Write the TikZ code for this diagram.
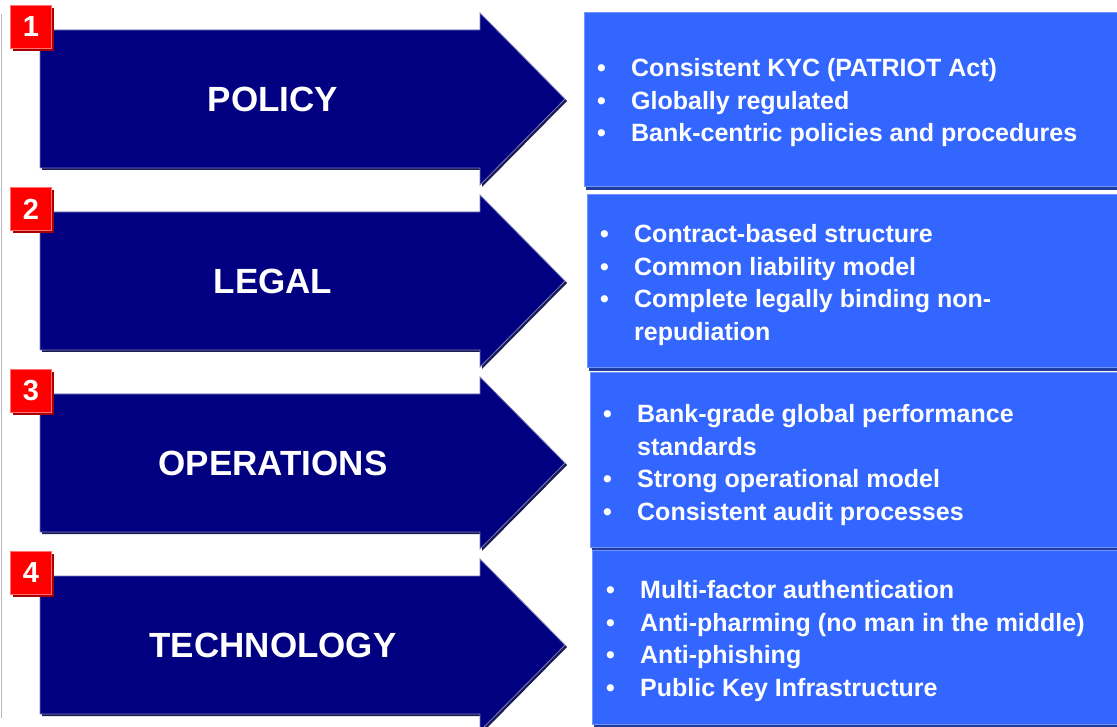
\documentclass[tikz,border=0pt]{standalone}
\usepackage{fontspec}
\setmainfont{Liberation Sans}

\definecolor{arrownavy}{HTML}{000080}
\definecolor{arrowedge}{HTML}{7C7CBE}
\definecolor{arrowshade}{HTML}{1A1A55}
\definecolor{boxblue}{HTML}{3366FF}
\definecolor{boxedge}{HTML}{7393FF}
\definecolor{boxshade}{HTML}{1F3C9E}
\definecolor{badgered}{HTML}{FF0000}
\definecolor{badgeedge}{HTML}{FF7070}
\definecolor{badgeshade}{HTML}{A80000}

\newcommand{\bul}[1]{\makebox[34pt][l]{\textbullet}#1}
\newcommand{\cont}[1]{\hspace*{34pt}#1}

\tikzset{
  arrowshape/.style={fill=arrownavy, draw=arrowedge, line width=0.8pt},
  arrowshadow/.style={fill=arrowshade},
  infobox/.style={fill=boxblue, draw=boxedge, line width=1pt},
  infoshadow/.style={fill=boxshade},
  badge/.style={fill=badgered, draw=badgeedge, line width=0.8pt, anchor=north west,
    minimum width=41pt, minimum height=43pt, inner sep=0pt, text=white,
    font=\bfseries\fontsize{29}{29}\selectfont},
  badgeshadow/.style={fill=badgeshade},
  arrowlabel/.style={text=white, inner sep=0pt, font=\bfseries\fontsize{35}{40}\selectfont},
  bullettext/.style={anchor=west, align=left, inner sep=0pt, text=white,
    font=\bfseries\fontsize{25}{32.5}\selectfont}
}

\begin{document}
\begin{tikzpicture}[x=1pt,y=1pt,yscale=-1]
\useasboundingbox (0,0) rectangle (1117,727);

% left margin line
\draw[gray!55, line width=1pt] (1,14) -- (1,718);

%Shape: Arrow 1
\fill[arrowshadow] (42,32) -- (482,32) -- (482,15) -- (567,101) -- (482,187) -- (482,170) -- (42,170) -- cycle;
\draw[arrowshape] (40,30) -- (480,30) -- (480,13) -- (565,99) -- (480,185) -- (480,168) -- (40,168) -- cycle;
%Shape: Arrow 2
\fill[arrowshadow] (42,214) -- (482,214) -- (482,197) -- (567,283) -- (482,369) -- (482,352) -- (42,352) -- cycle;
\draw[arrowshape] (40,212) -- (480,212) -- (480,195) -- (565,281) -- (480,367) -- (480,350) -- (40,350) -- cycle;
%Shape: Arrow 3
\fill[arrowshadow] (42,396) -- (482,396) -- (482,379) -- (567,465) -- (482,551) -- (482,534) -- (42,534) -- cycle;
\draw[arrowshape] (40,394) -- (480,394) -- (480,377) -- (565,463) -- (480,549) -- (480,532) -- (40,532) -- cycle;
%Shape: Arrow 4
\fill[arrowshadow] (42,578) -- (482,578) -- (482,561) -- (567,647) -- (482,733) -- (482,716) -- (42,716) -- cycle;
\draw[arrowshape] (40,576) -- (480,576) -- (480,559) -- (565,645) -- (480,731) -- (480,714) -- (40,714) -- cycle;

%Shape: Boxes
\fill[infoshadow] (586,16) rectangle (1125,190);
\draw[infobox] (584,13) rectangle (1125,187);
\fill[infoshadow] (589,198) rectangle (1125,371);
\draw[infobox] (587,195) rectangle (1125,368);
\fill[infoshadow] (592,376) rectangle (1125,550);
\draw[infobox] (590,373) rectangle (1125,547);
\fill[infoshadow] (594,553) rectangle (1125,727);
\draw[infobox] (592,550) rectangle (1125,724);

%Shape: Badges
\fill[badgeshadow] (13,8) rectangle (54,51);
\node[badge] (badge1) at (10,5) {1};
\fill[badgeshadow] (13,190) rectangle (54,233);
\node[badge] (badge2) at (10,187) {2};
\fill[badgeshadow] (13,372) rectangle (54,415);
\node[badge] (badge3) at (10,369) {3};
\fill[badgeshadow] (13,554) rectangle (54,597);
\node[badge] (badge4) at (10,551) {4};

% Text Node
\node[arrowlabel] (policy) at (273,99) {POLICY};
% Text Node
\node[arrowlabel] (legal) at (273,281) {LEGAL};
% Text Node
\node[arrowlabel] (operations) at (273,463) {OPERATIONS};
% Text Node
\node[arrowlabel] (technology) at (273,645) {TECHNOLOGY};

% Text Node
\node[bullettext] (policyitems) at (597,103) {\bul{Consistent KYC (PATRIOT Act)}\\
  \bul{Globally regulated}\\
  \bul{Bank-centric policies and procedures}};
% Text Node
\node[bullettext] (legalitems) at (600,285) {\bul{Contract-based structure}\\
  \bul{Common liability model}\\
  \bul{Complete legally binding non-}\\
  \cont{repudiation}};
% Text Node
\node[bullettext] (operationsitems) at (603,465) {\bul{Bank-grade global performance}\\
  \cont{standards}\\
  \bul{Strong operational model}\\
  \bul{Consistent audit processes}};
% Text Node
\node[bullettext] (technologyitems) at (606,641) {\bul{Multi-factor authentication}\\
  \bul{Anti-pharming (no man in the middle)}\\
  \bul{Anti-phishing}\\
  \bul{Public Key Infrastructure}};

\end{tikzpicture}
\end{document}
